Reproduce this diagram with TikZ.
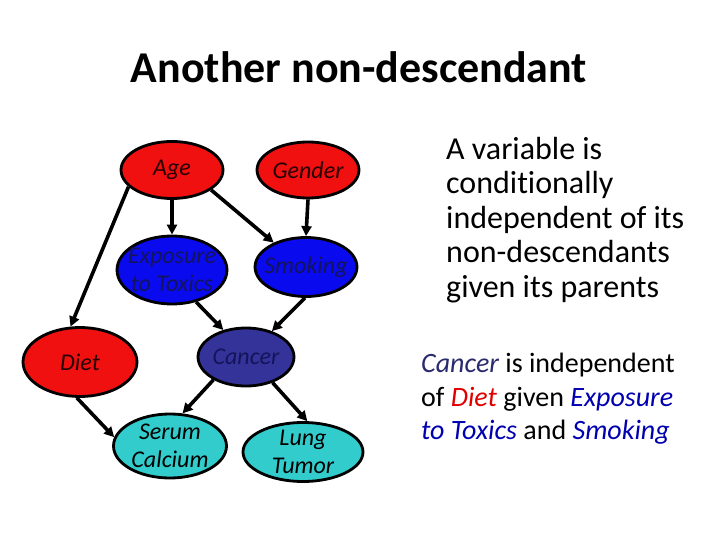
\documentclass[tikz,border=0pt]{standalone}
\usepackage{fontspec}
\setmainfont[Ligatures=NoCommon]{Carlito}
\usetikzlibrary{shapes.geometric,arrows.meta}
\definecolor{nred}{HTML}{F01010}
\definecolor{nblue}{HTML}{0A0AEE}
\definecolor{ncancer}{HTML}{333399}
\definecolor{nteal}{HTML}{33CCCC}
\definecolor{tblue}{HTML}{0000B0}
\definecolor{tnavy}{HTML}{2A2A6E}
\definecolor{tred}{HTML}{E00000}
\definecolor{ondark}{HTML}{14145A}
\begin{document}
\begin{tikzpicture}[x=1pt,y=-1pt,
  vnode/.style={ellipse,draw=black,line width=2.8pt,inner sep=0pt},
  vtext/.style={align=center,font=\fontsize{24}{28}\selectfont\itshape,inner sep=0pt},
  edge/.style={line width=3.6pt,-{Triangle[length=10pt,width=10pt]}}]
\useasboundingbox (0,0) rectangle (720,540);
\node[font=\fontsize{44}{50}\selectfont\bfseries] (title) at (359,67) {Another non-descendant};
\node[vnode,fill=nred,minimum width=102pt,minimum height=57pt,label={[vtext,text=black!85!red]center:Age}] (age) at (172,170) {};
\node[vnode,fill=nred,minimum width=102pt,minimum height=56pt,label={[vtext,text=black!85!red]center:Gender}] (gender) at (308,170) {};
\node[vnode,fill=nblue,minimum width=110pt,minimum height=68pt,label={[vtext,text=ondark]center:Exposure\\to Toxics}] (expo) at (172,270) {};
\node[vnode,fill=nblue,minimum width=102pt,minimum height=59pt,label={[vtext,text=ondark]center:Smoking}] (smok) at (306,267) {};
\node[vnode,fill=nred,minimum width=114pt,minimum height=69pt,label={[vtext,text=black!85!red]center:Diet}] (diet) at (80,362) {};
\node[vnode,fill=ncancer,minimum width=96pt,minimum height=58pt,label={[vtext,text=ondark]center:Cancer}] (cancer) at (246,357) {};
\node[vnode,fill=nteal,minimum width=113pt,minimum height=64pt,label={[vtext,text=black]center:Serum\\Calcium}] (serum) at (170,446) {};
\node[vnode,fill=nteal,minimum width=120pt,minimum height=59pt,label={[vtext,text=black]center:Lung\\Tumor}] (lung) at (303,452) {};
\draw[edge] (age.south) -- (expo.north);
\draw[edge] (age.333) -- (smok.143);
\draw[edge] (age.201) -- (diet.105);
\draw[edge] (gender.south) -- (smok.north);
\draw[edge] (expo.307) -- (cancer.130);
\draw[edge] (smok.268) -- (cancer.45);
\draw[edge] (diet.265) -- (serum.171);
\draw[edge] (cancer.215) -- (serum.69);
\draw[edge] (cancer.316) -- (lung.82);
\node[anchor=north west,align=left,inner sep=0pt,font=\fontsize{32}{34.5}\selectfont] (rule) at (446,137) {A variable is\\conditionally\\independent of its\\non-descendants\\given its parents};
\node[anchor=north west,align=left,inner sep=0pt,font=\fontsize{28}{33.5}\selectfont] (ex) at (421,353) {\textcolor{tnavy}{\itshape Cancer} is independent\\of \textcolor{tred}{\itshape Diet} given \textcolor{tblue}{\itshape Exposure}\\\textcolor{tblue}{\itshape to Toxics} and \textcolor{tblue}{\itshape Smoking}};
\end{tikzpicture}
\end{document}
